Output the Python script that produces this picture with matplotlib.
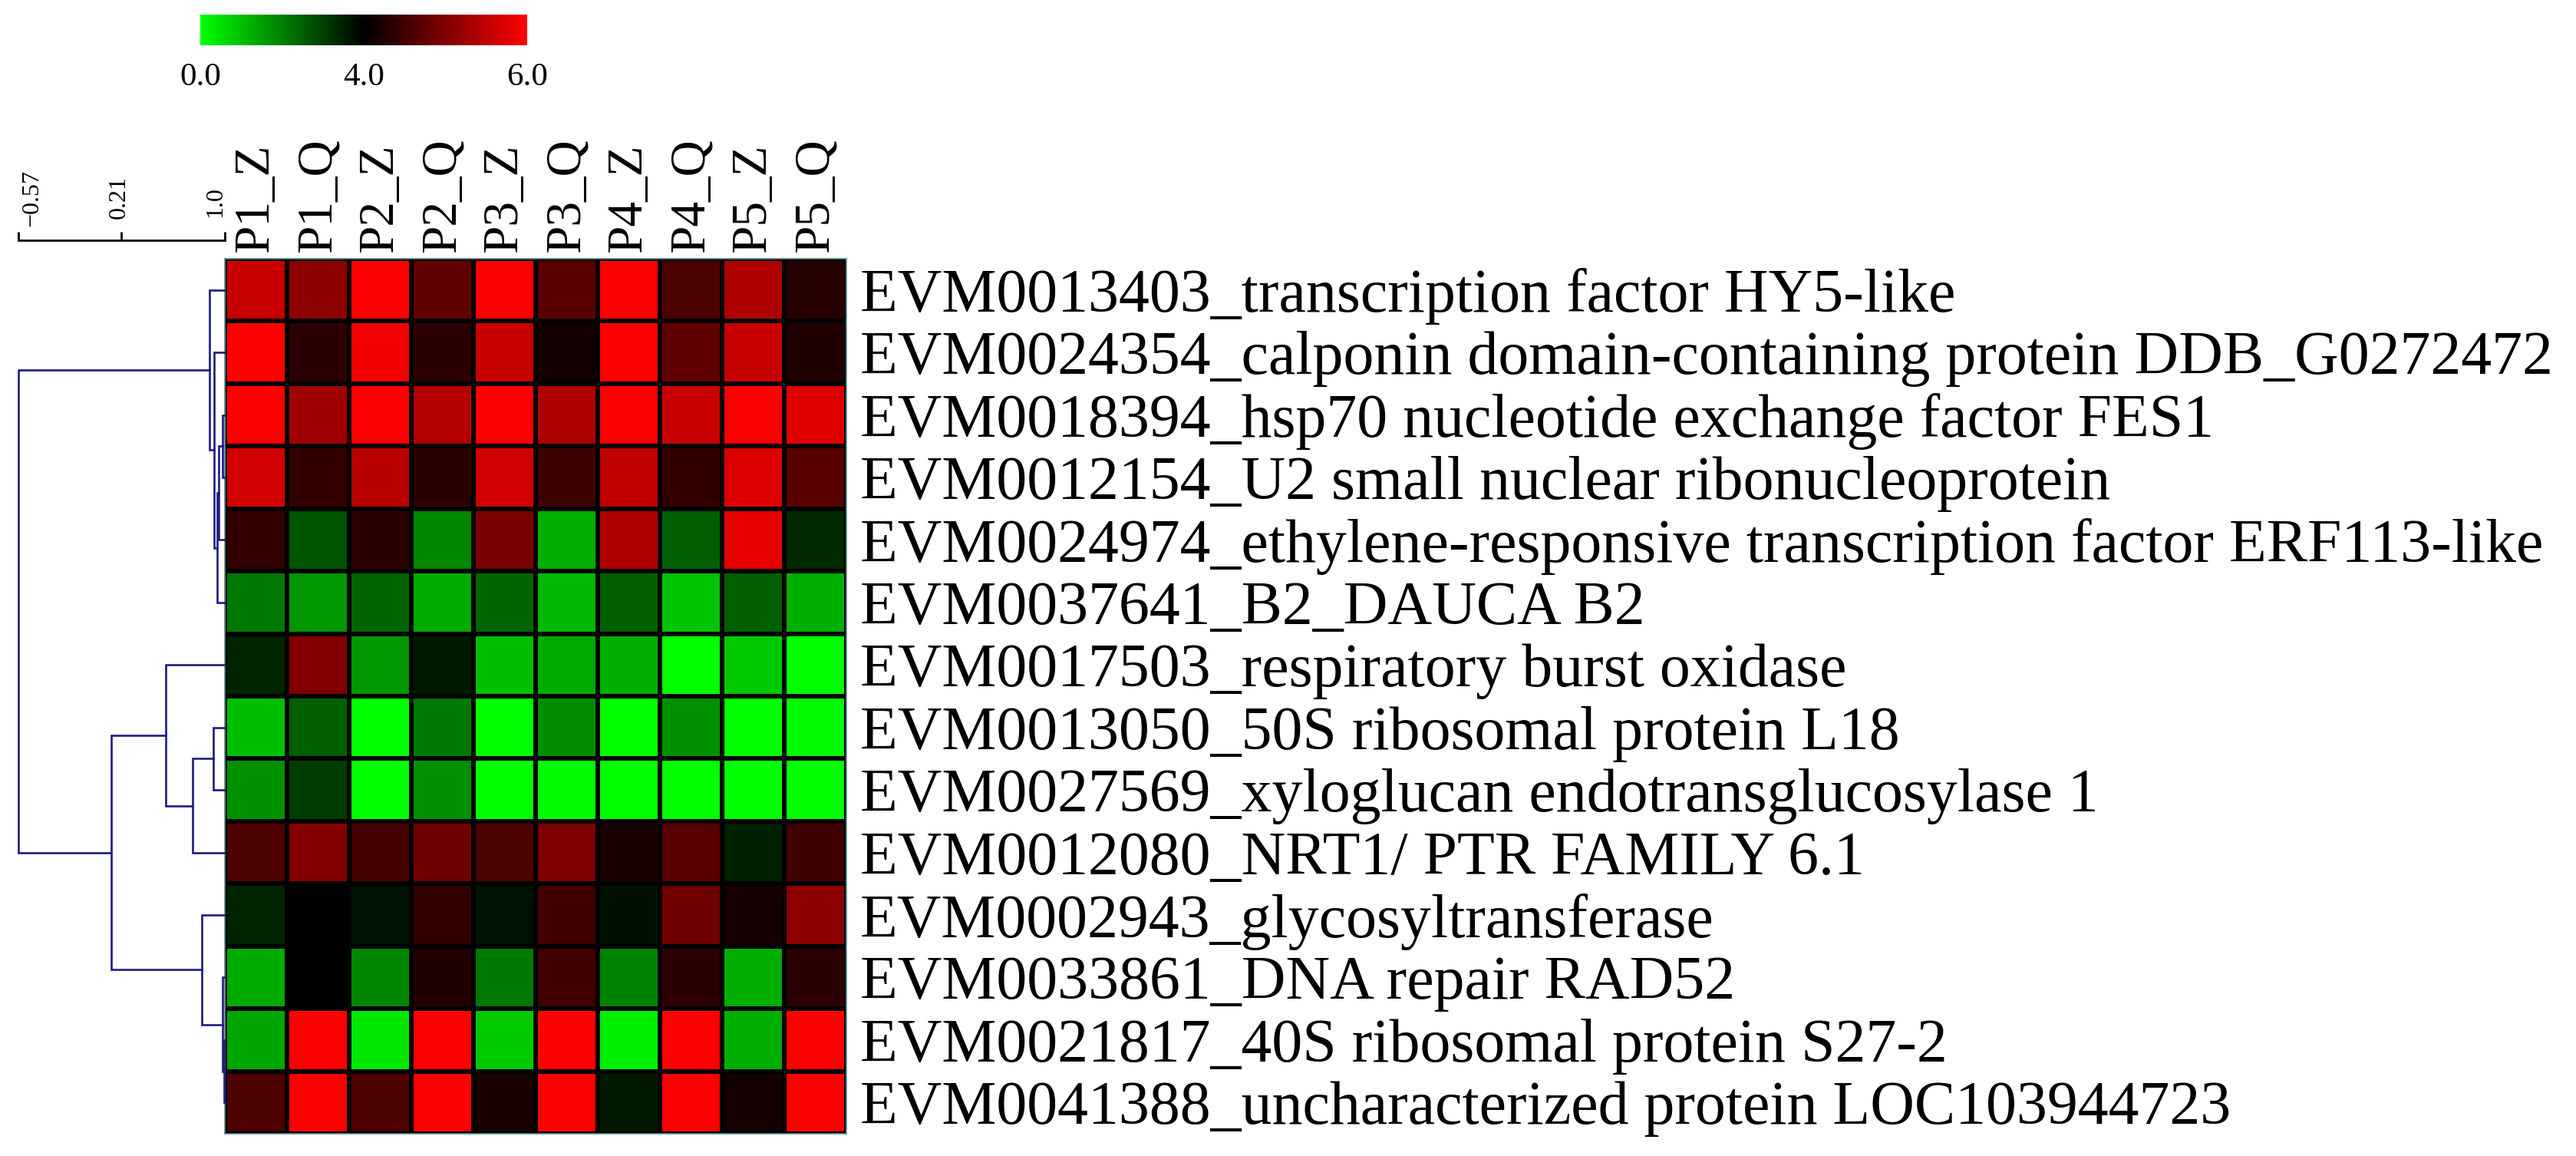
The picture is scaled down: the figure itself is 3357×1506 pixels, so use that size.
import numpy as np
import matplotlib
matplotlib.use('Agg')
import matplotlib.pyplot as plt
from matplotlib.colors import LinearSegmentedColormap, TwoSlopeNorm
from matplotlib.cm import ScalarMappable

plt.rcParams['font.family'] = ['Liberation Serif', 'DejaVu Serif']

# ---- data ----
samples = ['P1_Z', 'P1_Q', 'P2_Z', 'P2_Q', 'P3_Z', 'P3_Q', 'P4_Z', 'P4_Q', 'P5_Z', 'P5_Q']

genes = [
    'EVM0013403_transcription factor HY5-like',
    'EVM0024354_calponin domain-containing protein DDB_G0272472',
    'EVM0018394_hsp70 nucleotide exchange factor FES1',
    'EVM0012154_U2 small nuclear ribonucleoprotein',
    'EVM0024974_ethylene-responsive transcription factor ERF113-like',
    'EVM0037641_B2_DAUCA B2',
    'EVM0017503_respiratory burst oxidase',
    'EVM0013050_50S ribosomal protein L18',
    'EVM0027569_xyloglucan endotransglucosylase 1',
    'EVM0012080_NRT1/ PTR FAMILY 6.1',
    'EVM0002943_glycosyltransferase',
    'EVM0033861_DNA repair RAD52',
    'EVM0021817_40S ribosomal protein S27-2',
    'EVM0041388_uncharacterized protein LOC103944723',
]

expr = np.array([
    [5.57, 5.10, 6.00, 4.75, 6.00, 4.70, 6.00, 4.60, 5.37, 4.30],
    [6.00, 4.35, 5.90, 4.35, 5.57, 4.15, 6.00, 4.75, 5.57, 4.25],
    [6.00, 5.25, 6.00, 5.40, 6.00, 5.37, 6.00, 5.57, 6.00, 5.76],
    [5.65, 4.40, 5.45, 4.35, 5.65, 4.47, 5.50, 4.40, 5.73, 4.70],
    [4.40, 2.67, 4.35, 1.88, 4.94, 1.25, 5.37, 2.50, 5.80, 3.37],
    [2.10, 1.65, 2.43, 1.33, 2.43, 1.10, 2.50, 0.94, 2.50, 1.25],
    [3.45, 5.02, 1.65, 3.60, 1.02, 1.33, 1.25, 0.00, 0.86, 0.00],
    [1.02, 2.50, 0.00, 2.12, 0.00, 1.80, 0.00, 1.73, 0.00, 0.08],
    [1.73, 3.06, 0.00, 1.73, 0.00, 0.08, 0.00, 0.00, 0.00, 0.00],
    [4.60, 5.02, 4.55, 4.86, 4.60, 4.98, 4.20, 4.70, 3.53, 4.47],
    [3.45, 4.00, 3.69, 4.40, 3.69, 4.50, 3.72, 4.86, 4.16, 5.10],
    [1.33, 4.00, 1.88, 4.27, 2.12, 4.50, 1.96, 4.35, 1.25, 4.35],
    [1.41, 6.00, 0.39, 6.00, 0.86, 6.00, 0.24, 6.00, 1.25, 6.00],
    [4.60, 6.00, 4.60, 6.00, 4.20, 6.00, 3.60, 6.00, 4.16, 6.00],
])

# row dendrogram: cluster n_leaves+k joins merge_left[k] and merge_right[k] at merge_sim[k]
merge_left = [2, 14, 15, 1, 0, 7, 19, 6, 12, 11, 10, 21, 18]
merge_right = [3, 4, 5, 16, 17, 8, 9, 20, 13, 22, 23, 24, 25]
merge_sim = [0.984, 0.953, 0.940, 0.920, 0.881, 0.910, 0.754, 0.549, 0.994, 0.981, 0.822, 0.139, -0.57]

scale_ticks = [-0.57, 0.21, 1.0]
scale_labels = ['\u22120.57', '0.21', '1.0']

cbar_ticks = [0.0, 4.0, 6.0]
cbar_labels = ['0.0', '4.0', '6.0']

# ---- layout helpers (pixel boxes on a 3357x1506 canvas) ----
W, H = 3357, 1506
fig = plt.figure(figsize=(W / 100, H / 100), dpi=100)


def box(left, top, right, bottom):
    return [left / W, 1 - bottom / H, (right - left) / W, (bottom - top) / H]


cmap = LinearSegmentedColormap.from_list('gkr', ['#00ff00', '#000000', '#ff0000'])
norm = TwoSlopeNorm(vmin=cbar_ticks[0], vcenter=cbar_ticks[1], vmax=cbar_ticks[2])

n_rows, n_cols = expr.shape

# ---- heatmap ----
ax = fig.add_axes(box(293, 337, 1103, 1477))
ax.pcolormesh(expr, cmap=cmap, norm=norm, edgecolors='black', linewidth=3.2)
ax.set_xlim(0, n_cols)
ax.set_ylim(n_rows, 0)
ax.set_xticks(np.arange(n_cols) + 0.5)
ax.set_xticklabels(samples, rotation=90, fontsize=47)
ax.xaxis.set_ticks_position('top')
ax.set_yticks(np.arange(n_rows) + 0.5)
ax.set_yticklabels(genes, fontsize=57.5)
ax.yaxis.set_ticks_position('right')
ax.tick_params(axis='x', length=0, pad=6)
ax.tick_params(axis='y', length=0, pad=13)
for sp in ax.spines.values():
    sp.set_color('#5f8f8f')
    sp.set_linewidth(1.2)

# ---- row dendrogram ----
axd = fig.add_axes(box(24, 337, 293, 1477))
axd.set_xlim(scale_ticks[0], scale_ticks[-1])
axd.set_ylim(n_rows, 0)
axd.axis('off')

node_x = {i: 1.0 for i in range(n_rows)}
node_y = {i: i + 0.5 for i in range(n_rows)}
dcol = '#1c1c80'
for k, (a, b, s) in enumerate(zip(merge_left, merge_right, merge_sim)):
    axd.plot([node_x[a], s, s, node_x[b]], [node_y[a], node_y[a], node_y[b], node_y[b]],
             color=dcol, lw=1.9, clip_on=False, solid_joinstyle='miter')
    node_x[n_rows + k] = s
    node_y[n_rows + k] = (node_y[a] + node_y[b]) / 2

# ---- similarity scale bar ----
axs = fig.add_axes(box(24, 313, 293, 323))
axs.set_xlim(scale_ticks[0], scale_ticks[-1])
axs.patch.set_visible(False)
for side in ['left', 'right', 'bottom']:
    axs.spines[side].set_visible(False)
axs.spines['top'].set_linewidth(2.0)
axs.set_yticks([])
axs.xaxis.set_ticks_position('top')
axs.set_xticks(scale_ticks)
axs.set_xticklabels([])
axs.tick_params(axis='x', direction='out', length=8, width=2.0)
nudges = [(18, 18), (-2, 28), (-12, 30)]
for t, lbl, (dx, dy) in zip(scale_ticks, scale_labels, nudges):
    axs.annotate(lbl, xy=(t, 1), xycoords=('data', 'axes fraction'),
                 xytext=(dx, dy), textcoords='offset pixels',
                 rotation=90, ha='center', va='bottom', fontsize=23)

# ---- colour key ----
cax = fig.add_axes(box(261, 19, 687, 59))
cb = fig.colorbar(ScalarMappable(norm=norm, cmap=cmap), cax=cax,
                  orientation='horizontal', ticks=cbar_ticks)
cb.ax.set_xticklabels(cbar_labels, fontsize=31)
cb.ax.tick_params(length=0, pad=16)
cb.outline.set_visible(False)

fig.savefig('out.png', dpi=100)
